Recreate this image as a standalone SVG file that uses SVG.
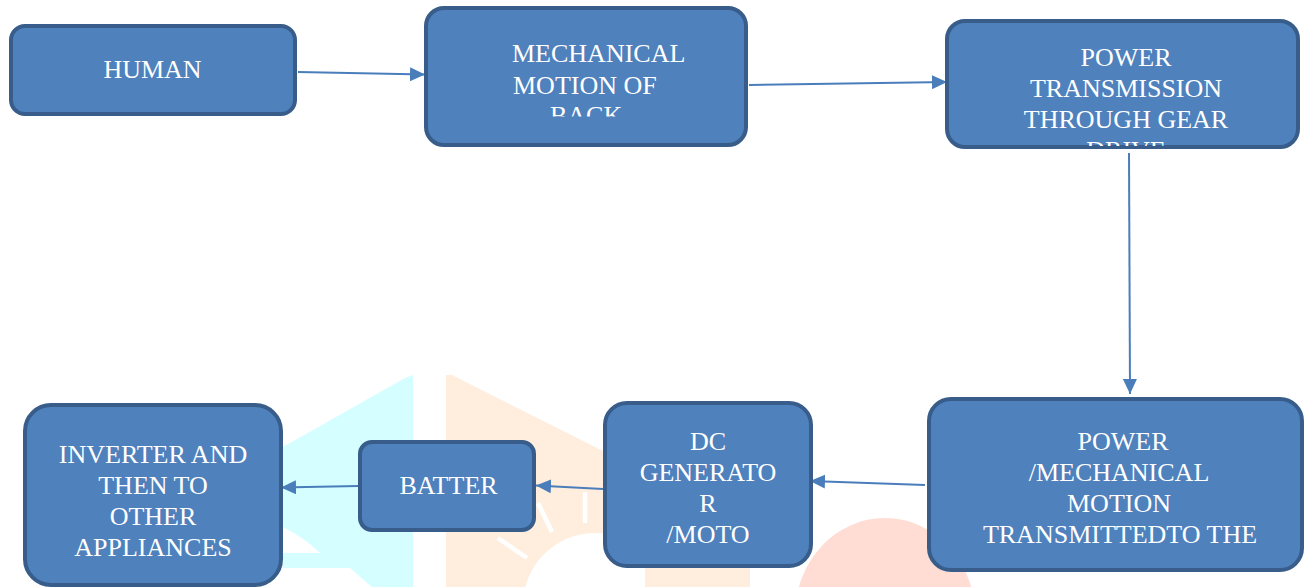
<svg xmlns="http://www.w3.org/2000/svg" width="1305" height="587" viewBox="0 0 1305 587">
<style>
.box{fill:#4f81bd;stroke:#385d8a;stroke-width:4}
.t{font-family:"Liberation Serif","Times New Roman",serif;font-size:26px;fill:#ffffff}
.m{text-anchor:middle}
.c{fill:none;stroke:#4a7ebb;stroke-width:2}
.ray{stroke:#ffffff;stroke-width:4.5}
</style>
<defs>
<marker id="ah" markerUnits="userSpaceOnUse" markerWidth="16" markerHeight="14" refX="15" refY="7" orient="auto">
<path d="M0,0 L15,7 L0,14 Z" fill="#4a7ebb"/>
</marker>
<clipPath id="clipBack"><rect x="426" y="8" width="320" height="108.5"/></clipPath>
<clipPath id="clipDrive"><rect x="947" y="21" width="351" height="125"/></clipPath>
</defs>
<g id="watermark">
<polygon points="283,447 405,378 413,375 413,587 283,587" fill="#d4feff"/>
<path d="M283,527 Q305,538 320,553 L283,553 Z" fill="#ffffff"/>
<polygon points="283,568 350,568 372,587 283,587" fill="#ffffff"/>
<polygon points="446,375 452,375 605,452 605,587 446,587" fill="#ffeedd"/>
<circle cx="595" cy="605" r="72" fill="#ffffff"/>
<line class="ray" x1="585" y1="492" x2="585" y2="523"/>
<line class="ray" x1="538" y1="503" x2="552" y2="532"/>
<line class="ray" x1="498" y1="538" x2="527" y2="558"/>
<rect x="645" y="560" width="105" height="27" fill="#ffeedd"/>
<ellipse cx="885" cy="615" rx="90" ry="97" fill="#ffdcd4"/>
</g>
<g id="connectors">
<line class="c" x1="298" y1="72" x2="425" y2="74.5" marker-end="url(#ah)"/>
<line class="c" x1="749" y1="85" x2="947" y2="82" marker-end="url(#ah)"/>
<line class="c" x1="1129" y1="153" x2="1130" y2="394" marker-end="url(#ah)"/>
<line class="c" x1="925" y1="485" x2="810" y2="481" marker-end="url(#ah)"/>
<line class="c" x1="603" y1="489" x2="536" y2="485.5" marker-end="url(#ah)"/>
<line class="c" x1="358" y1="486" x2="281" y2="487.5" marker-end="url(#ah)"/>
</g>
<g id="human">
<rect class="box" x="11" y="26" width="284" height="88" rx="14"/>
<text class="t m" x="152.5" y="78">HUMAN</text>
</g>
<g id="mechanical-motion">
<rect class="box" x="426" y="8" width="320" height="137" rx="18"/>
<text class="t" x="512" y="62">MECHANICAL</text>
<text class="t" x="513" y="94">MOTION OF</text>
<text class="t" x="550" y="124" clip-path="url(#clipBack)">BACK</text>
</g>
<g id="power-transmission">
<rect class="box" x="947" y="21" width="351" height="126" rx="18"/>
<text class="t m" x="1126" y="66">POWER</text>
<text class="t m" x="1126" y="97">TRANSMISSION</text>
<text class="t m" x="1126" y="128">THROUGH GEAR</text>
<text class="t m" x="1126" y="159" clip-path="url(#clipDrive)">DRIVE</text>
</g>
<g id="power-mechanical">
<rect class="box" x="929" y="399" width="373" height="171" rx="22"/>
<text class="t m" x="1123" y="450">POWER</text>
<text class="t m" x="1119" y="481">/MECHANICAL</text>
<text class="t m" x="1119" y="512">MOTION</text>
<text class="t m" x="1120" y="543">TRANSMITTEDTO THE</text>
</g>
<g id="dc-generator">
<rect class="box" x="605" y="403" width="206" height="163" rx="22"/>
<text class="t m" x="708" y="450">DC</text>
<text class="t m" x="708" y="481">GENERATO</text>
<text class="t m" x="708" y="512">R</text>
<text class="t m" x="708" y="543">/MOTO</text>
</g>
<g id="battery">
<rect class="box" x="360" y="442" width="174" height="88" rx="12"/>
<text class="t m" x="448.5" y="494">BATTER</text>
</g>
<g id="inverter">
<rect class="box" x="25" y="405" width="256" height="180" rx="26"/>
<text class="t m" x="153" y="463">INVERTER AND</text>
<text class="t m" x="153" y="494">THEN TO</text>
<text class="t m" x="153" y="525">OTHER</text>
<text class="t m" x="153" y="556">APPLIANCES</text>
</g>
</svg>
